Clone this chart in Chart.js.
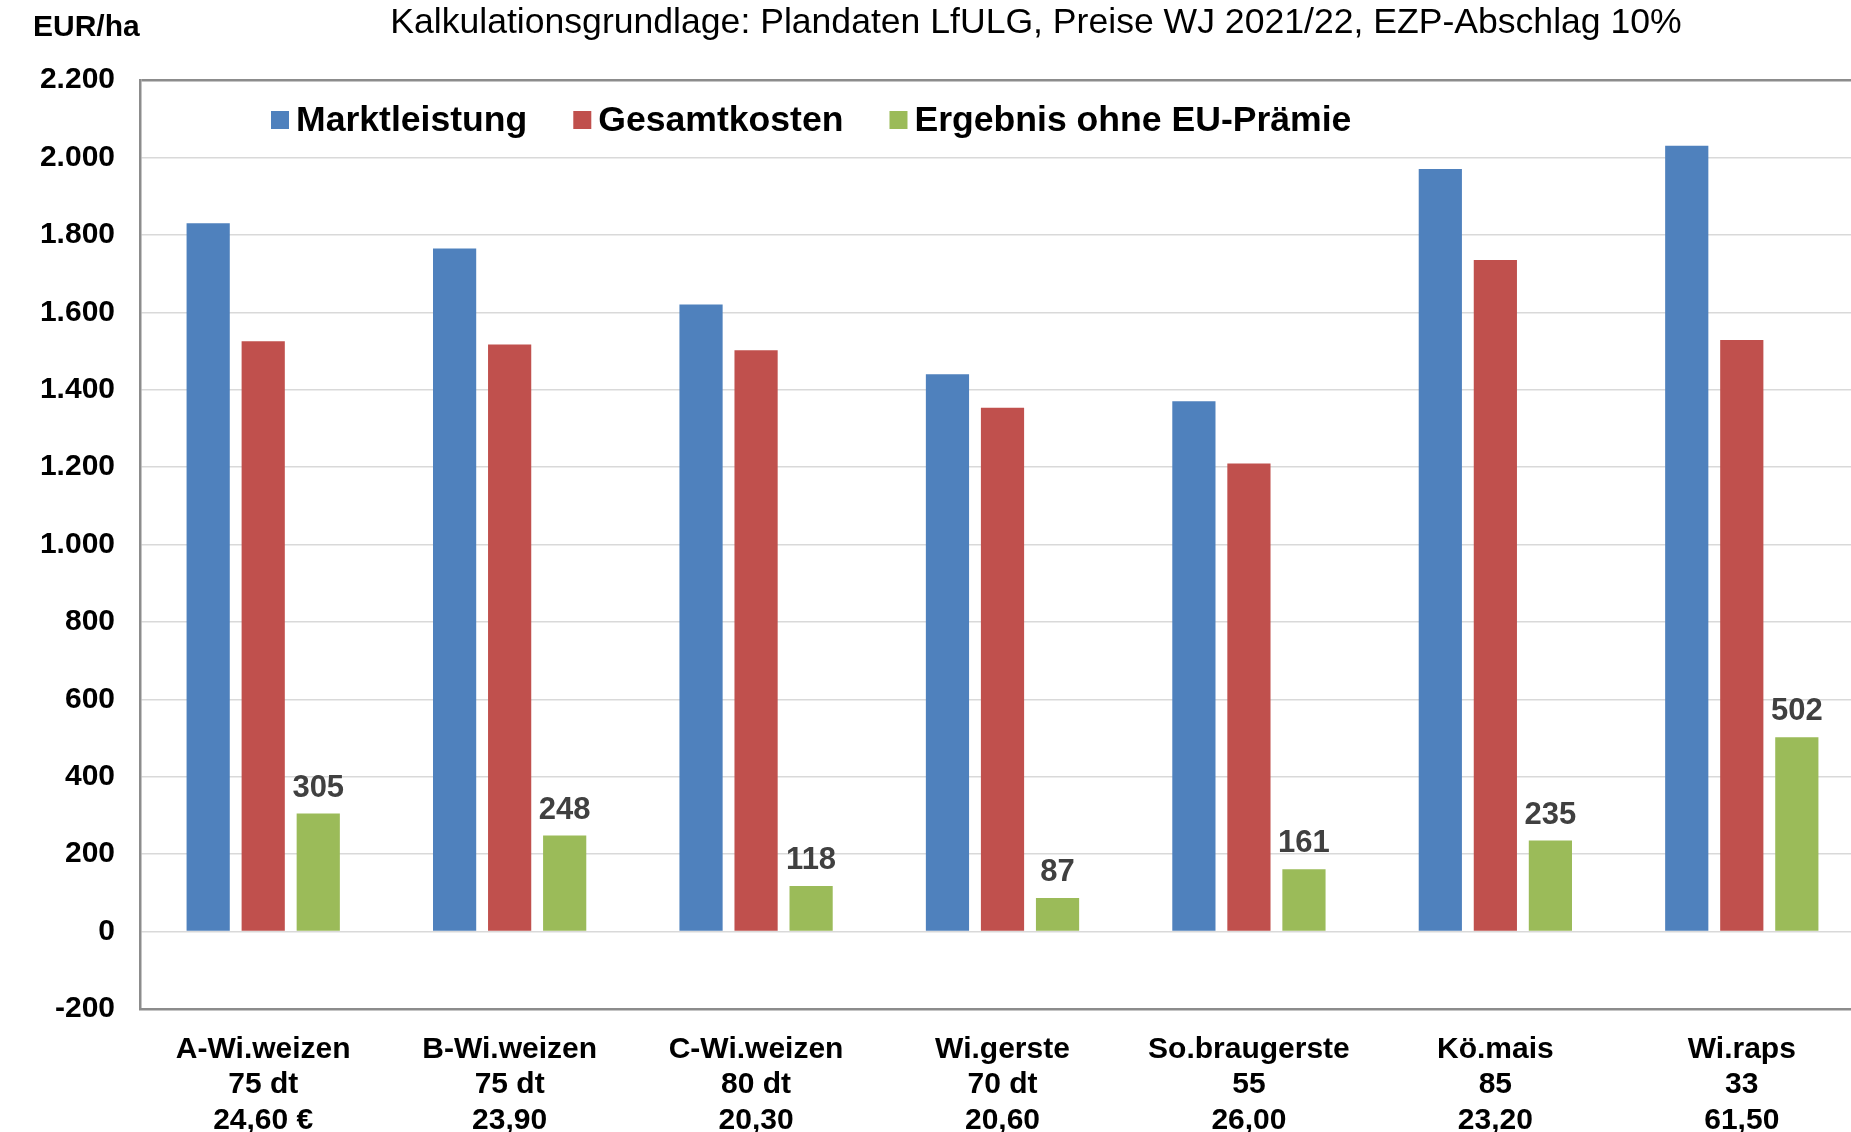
<!DOCTYPE html>
<html><head><meta charset="utf-8">
<script src="https://cdn.jsdelivr.net/npm/chart.js@4.4.1/dist/chart.umd.min.js"></script>
<style>
html,body{margin:0;padding:0;background:#fff;overflow:hidden;}
#wrap{position:relative;width:1865px;height:1132px;}
</style>
</head><body><div id="wrap"><canvas id="c"></canvas></div>
<script>
const categories = [
  ["A-Wi.weizen","75 dt","24,60 €"],
  ["B-Wi.weizen","75 dt","23,90"],
  ["C-Wi.weizen","80 dt","20,30"],
  ["Wi.gerste","70 dt","20,60"],
  ["So.braugerste","55","26,00"],
  ["Kö.mais","85","23,20"],
  ["Wi.raps","33","61,50"]
];
const marktleistung = [1830, 1765, 1620, 1440, 1370, 1970, 2030];
const gesamtkosten  = [1525, 1517, 1502, 1353, 1209, 1735, 1528];
const ergebnis      = [305, 248, 118, 87, 161, 235, 502];
const seriesNames = ["Marktleistung", "Gesamtkosten", "Ergebnis ohne EU-Prämie"];
const seriesColors = ["#4F81BD", "#C0504D", "#9BBB59"];
const yMin = -200, yMax = 2200, yStep = 200;
const titleText = "Kalkulationsgrundlage: Plandaten LfULG, Preise WJ 2021/22, EZP-Abschlag 10%";
const unitText = "EUR/ha";

const FONT = "'Liberation Sans', Arial, sans-serif";

function fmtDE(v){
  const neg = v < 0; let s = String(Math.abs(v));
  s = s.replace(/\B(?=(\d{3})+(?!\d))/g, ".");
  return (neg ? "-" : "") + s;
}

const extras = {
  id: 'extras',
  afterDraw(chart){
    const ctx = chart.ctx, ca = chart.chartArea;
    ctx.save();
    // title
    ctx.fillStyle = "#000";
    ctx.font = "35.6px " + FONT;
    ctx.textAlign = "center"; ctx.textBaseline = "middle";
    ctx.fillText(titleText, 1036, 23);
    // unit
    ctx.font = "bold 30px " + FONT;
    ctx.textAlign = "left";
    ctx.fillText(unitText, 33, 28);
    // legend
    ctx.font = "bold 35.6px " + FONT;
    let x = ca.left + 131; const ly = 120;
    chart.data.datasets.forEach(ds => {
      ctx.fillStyle = ds.backgroundColor;
      ctx.fillRect(x, ly - 9, 18, 18);
      ctx.fillStyle = "#000";
      ctx.textAlign = "left"; ctx.textBaseline = "middle";
      ctx.fillText(ds.label, x + 25, ly + 1);
      x += 25 + ctx.measureText(ds.label).width + 46;
    });
    // data labels for the result series
    const meta = chart.getDatasetMeta(2);
    ctx.font = "bold 31px " + FONT;
    ctx.fillStyle = "#404040";
    ctx.textAlign = "center"; ctx.textBaseline = "alphabetic";
    meta.data.forEach((bar, i) => {
      ctx.fillText(fmtDE(chart.data.datasets[2].data[i]), bar.x, bar.y - 17);
    });
    ctx.restore();
  }
};

new Chart(document.getElementById('c'), {
  type: 'bar',
  data: {
    labels: categories,
    datasets: [
      {label: seriesNames[0], data: marktleistung, backgroundColor: seriesColors[0]},
      {label: seriesNames[1], data: gesamtkosten,  backgroundColor: seriesColors[1]},
      {label: seriesNames[2], data: ergebnis,      backgroundColor: seriesColors[2]}
    ]
  },
  options: {
    responsive: true, maintainAspectRatio: false, animation: false, devicePixelRatio: 1,
    layout: {padding: {top: 80, left: 0, right: 0, bottom: 0}},
    datasets: {bar: {categoryPercentage: 0.67, barPercentage: 0.785}},
    plugins: {legend: {display: false}, title: {display: false}, tooltip: {enabled: false}},
    scales: {
      x: {
        grid: {display: false, drawTicks: false},
        border: {display: true, color: '#8c8c8c', width: 2.5},
        ticks: {color: '#000', font: {family: FONT, size: 30, weight: 'bold', lineHeight: 1.18}, padding: 23, maxRotation: 0, autoSkip: false},
        afterFit(s){ s.height = 123; }
      },
      y: {
        min: yMin, max: yMax,
        grid: {
          drawTicks: false,
          color: c => (c.tick && c.tick.value === yMax) ? '#8c8c8c' : '#d9d9d9',
          lineWidth: c => (c.tick && c.tick.value === yMax) ? 2.5 : 1.5
        },
        border: {display: true, color: '#8c8c8c', width: 2.5},
        ticks: {stepSize: yStep, color: '#000', padding: 25, font: {family: FONT, size: 30, weight: 'bold'}, callback: v => fmtDE(v)},
        afterFit(s){ s.width = 140; }
      }
    }
  },
  plugins: [extras]
});
</script>
</body></html>
